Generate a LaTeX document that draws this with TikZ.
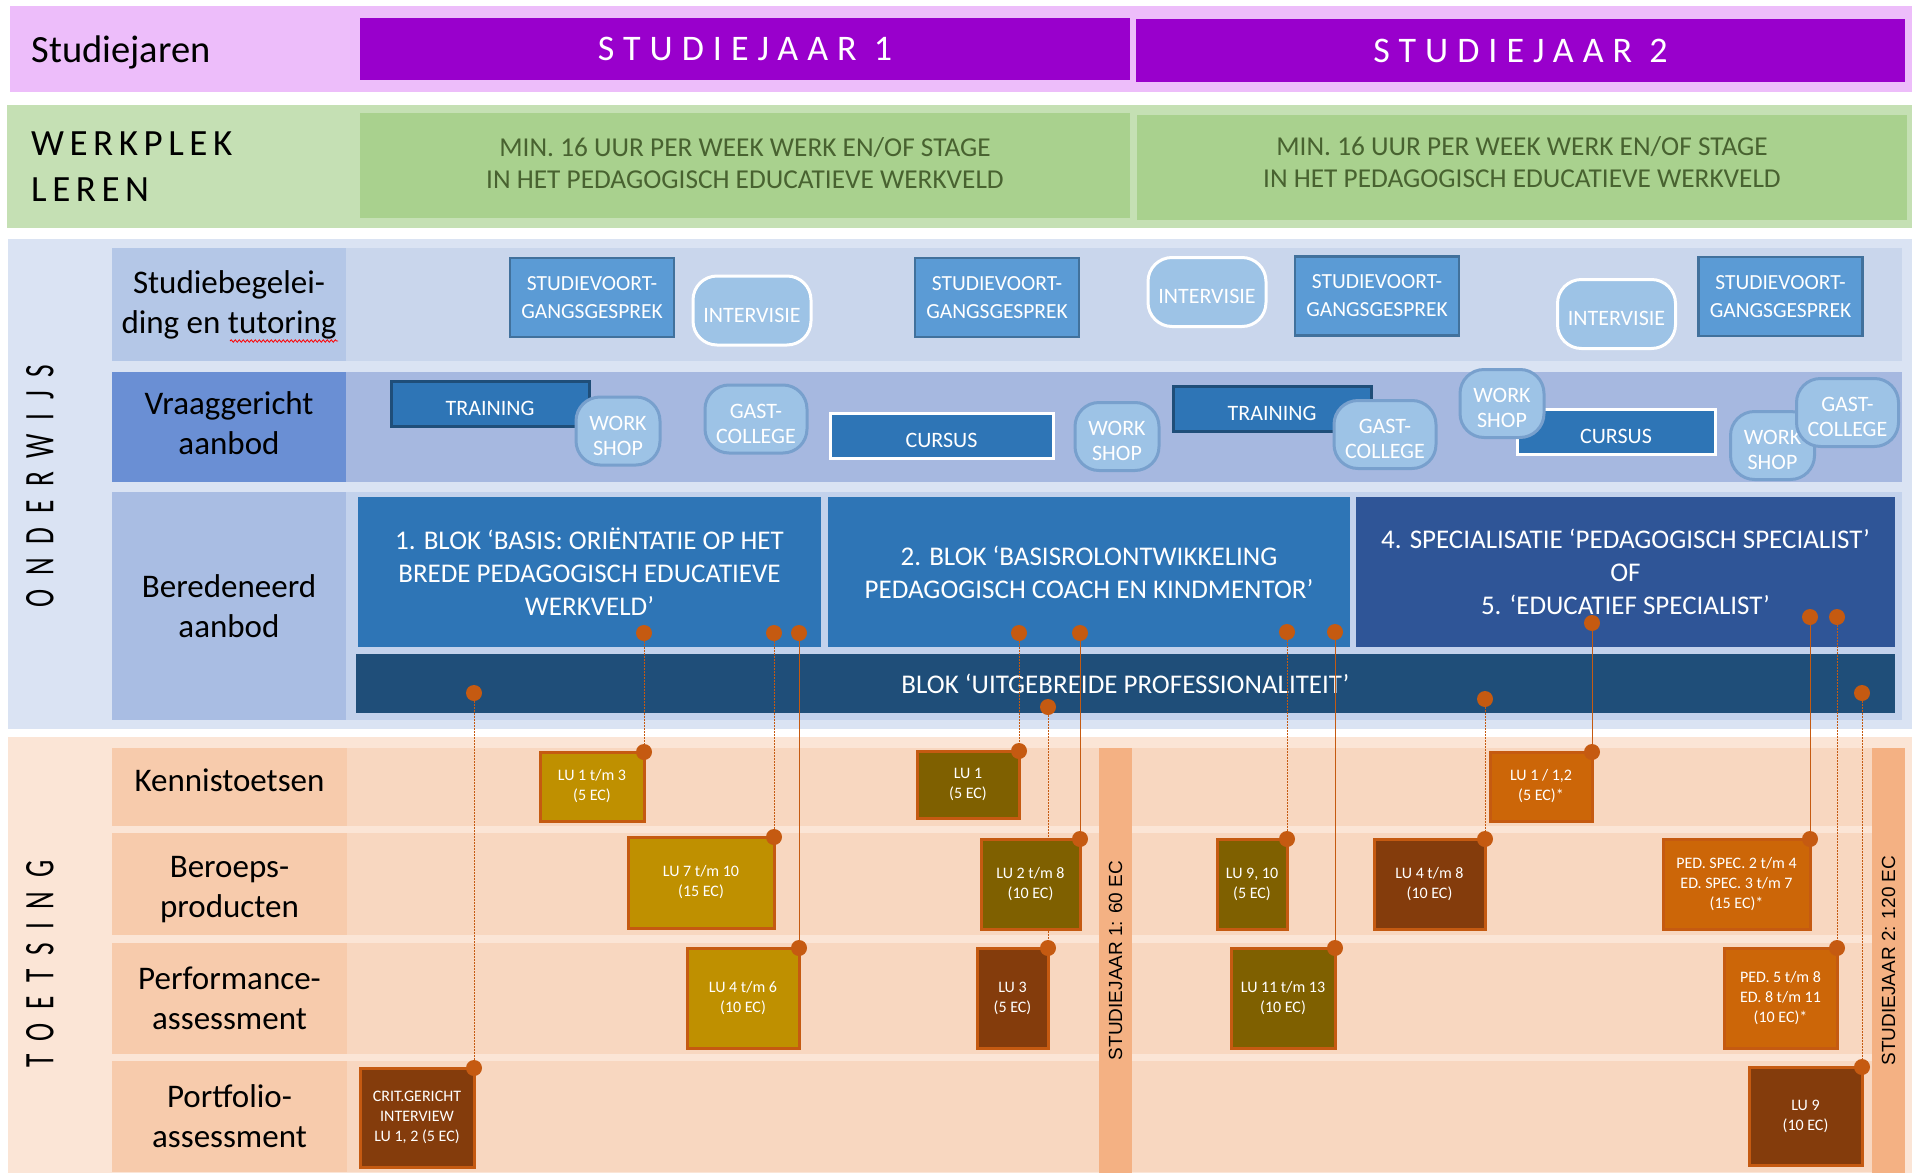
\documentclass[tikz,border=0pt]{standalone}
\usepackage{graphicx}
\usepackage{fontspec}
\setmainfont{Carlito}
\newfontfamily\jaarfont[LetterSpace=25]{Carlito}
\newfontfamily\werkfont[LetterSpace=15]{Carlito}
\newfontfamily\zijfont[LetterSpace=50]{Carlito}
\newfontfamily\balkfont{Liberation Sans}
\usetikzlibrary{positioning,decorations.pathmorphing}

\definecolor{roze}{RGB}{237,189,250}
\definecolor{paars}{RGB}{153,0,204}
\definecolor{lichtgroen}{RGB}{197,224,180}
\definecolor{groen}{RGB}{169,209,142}
\definecolor{groentekst}{RGB}{72,98,48}
\definecolor{lichtblauw}{RGB}{218,227,243}
\definecolor{blauwA}{RGB}{180,199,231}
\definecolor{bandA}{RGB}{201,214,236}
\definecolor{blauwB}{RGB}{106,143,212}
\definecolor{bandB}{RGB}{166,184,224}
\definecolor{blauwC}{RGB}{169,189,227}
\definecolor{bandC}{RGB}{195,210,236}
\definecolor{middenblauw}{RGB}{91,155,213}
\definecolor{randblauw}{RGB}{65,113,156}
\definecolor{hemelblauw}{RGB}{157,195,230}
\definecolor{randlicht}{RGB}{120,160,205}
\definecolor{blokblauw}{RGB}{46,117,182}
\definecolor{donkerblauw}{RGB}{31,78,121}
\definecolor{specblauw}{RGB}{47,85,151}
\definecolor{perzik}{RGB}{251,229,214}
\definecolor{perziklabel}{RGB}{247,203,172}
\definecolor{perzikband}{RGB}{248,215,192}
\definecolor{balk}{RGB}{244,177,131}
\definecolor{oranje}{RGB}{197,90,17}
\definecolor{feloranje}{RGB}{204,102,8}
\definecolor{goud}{RGB}{191,144,0}
\definecolor{olijf}{RGB}{127,96,0}
\definecolor{bruin}{RGB}{132,60,12}

\pgfdeclarelayer{achter}
\pgfdeclarelayer{lijnen}
\pgfsetlayers{achter,lijnen,main}

\begin{document}
\begin{tikzpicture}[x=1pt, y=-1pt,
	vak/.style 2 args={minimum width=#1pt, minimum height=#2pt, inner sep=0pt, outer sep=0pt},
	rijlabel/.style={align=center, font=\fontsize{33}{40}\selectfont},
	jaartekst/.style={text=white, font=\jaarfont\fontsize{36}{40}\selectfont},
	gesprek/.style={vak={164}{79}, fill=middenblauw, draw=randblauw, line width=2.5pt, text=white, align=center, font=\fontsize{21.5}{28}\selectfont},
	rondje/.style 2 args={vak={#1}{#2}, fill=hemelblauw, rounded corners=24pt, line width=3pt, text=white, align=center, text height=24pt, font=\fontsize{22}{25}\selectfont},
	tweeregels/.style={text height=49pt},
	balkje/.style 2 args={vak={#1}{#2}, fill=blokblauw, line width=3pt, text=white, text height=24pt, font=\fontsize{22}{25}\selectfont},
	bloktekst/.style={text=white, align=center, font=\fontsize{27}{33}\selectfont},
	toets/.style={draw=oranje, line width=3pt, text=white, align=center, font=\fontsize{16}{20}\selectfont},
	zijbalk/.style={vak={425}{33}, rotate=90, fill=balk, font=\balkfont\fontsize{19}{19}\selectfont},
	stip/.style={circle, fill=oranje, minimum size=16pt, inner sep=0pt, outer sep=0pt},
	lijn/.style={draw=oranje, line width=1pt},
	gestippeld/.style={lijn, dash pattern=on 1.5pt off 1.5pt}
	]
	
	\useasboundingbox (0,0) rectangle (1912,1175);
	
	\begin{pgfonlayer}{achter}
		% Achtergrondbanden
		\fill[roze] (10,6) rectangle (1912,92);
		\fill[lichtgroen] (7,105) rectangle (1912,228);
		\fill[lichtblauw] (8,239) rectangle (1912,729);
		\fill[perzik] (8,737) rectangle (1912,1173);
		
		% Studiejaren
		\node[anchor=west, font=\fontsize{38.5}{40}\selectfont] (studiejaren) at (28,52) {Studiejaren};
		\node[vak={770}{62}, fill=paars, jaartekst] (jaar1) at (745,49) {STUDIEJAAR 1};
		\node[vak={769}{63}, fill=paars, jaartekst] (jaar2) at (1520.5,50.5) {STUDIEJAAR 2};
		
		% Werkplekleren
		\node[anchor=west, align=left, inner sep=0pt, font=\werkfont\fontsize{37}{46}\selectfont] (werkplek) at (31,167) {WERKPLEK\\LEREN};
		\foreach \n/\x/\y/\d in {werk1/745/165.5/5, werk2/1522/167.5/10}
		\node[vak={770}{105}, fill=groen, text=groentekst, align=center, text depth=\d pt, font=\fontsize{27.3}{32}\selectfont] (\n) at (\x,\y) {MIN. 16 UUR PER WEEK WERK EN/OF STAGE\\IN HET PEDAGOGISCH EDUCATIEVE WERKVELD};
		
		% Onderwijs: rijen
		\node[rotate=90, font=\zijfont\fontsize{42}{42}\selectfont] (onderwijs) at (40,486) {\scalebox{0.65}[1]{ONDERWIJS}};
		\fill[bandA] (346,248) rectangle (1902,361);
		\fill[bandB] (346,372) rectangle (1902,482);
		\fill[bandC] (346,492) rectangle (1902,720);
		\node[vak={234}{113}, fill=blauwA, rijlabel] (begeleiding) at (229,304.5) {Studiebegelei-\\ding en tutoring};
		\node[vak={234}{110}, fill=blauwB, rijlabel, text depth=8pt] (vraag) at (229,427) {Vraaggericht\\aanbod};
		\node[vak={234}{228}, fill=blauwC, rijlabel] (beredeneerd) at (229,606) {Beredeneerd\\aanbod};
		\draw[red, line width=0.8pt, decorate, decoration={snake, amplitude=1.2pt, segment length=4pt}] (230,341) -- (338,341);
		
		% Studiebegeleiding
		\foreach \n/\x/\y in {svg1/592/297.5, svg2/997/297.5, svg3/1377/296, svg4/1780.5/296.5}
		\node[gesprek] (\n) at (\x,\y) {STUDIEVOORT-\\GANGSGESPREK};
		\foreach \n/\x/\y in {iv1/752/310.5, iv2/1207/292, iv3/1616.5/314}
		\node[rondje={118}{69}, draw=white] (\n) at (\x,\y) {INTERVISIE};
		
		% Vraaggericht aanbod
		\foreach \n/\x/\y in {tr1/490/403.5, tr2/1272/408.5}
		\node[balkje={198}{45}, draw=donkerblauw] (\n) at (\x,\y) {TRAINING};
		\node[balkje={223}{45}, draw=white] (cu1) at (941.5,435.5) {CURSUS};
		\node[balkje={198}{45}, draw=white] (cu2) at (1616,432) {CURSUS};
		\foreach \n/\x/\y in {ws1/618/431, ws2/1117/436.5, ws3/1502/403.5, ws4/1772.5/445.5}
		\node[rondje={84}{68}, draw=randlicht, tweeregels] (\n) at (\x,\y) {WORK\\SHOP};
		\foreach \n/\x/\y in {gc1/756/419, gc2/1385/434.5, gc3/1847.5/412.5}
		\node[rondje={102}{68}, draw=randlicht, tweeregels] (\n) at (\x,\y) {GAST-\\COLLEGE};
		
		% Beredeneerd aanbod
		\node[vak={463}{150}, fill=blokblauw, bloktekst] (blok1) at (589.5,572) {1. BLOK ‘BASIS: ORIËNTATIE OP HET\\BREDE PEDAGOGISCH EDUCATIEVE\\WERKVELD’};
		\node[vak={522}{150}, fill=blokblauw, bloktekst] (blok2) at (1089,572) {2. BLOK ‘BASISROLONTWIKKELING\\PEDAGOGISCH COACH EN KINDMENTOR’};
		\node[vak={539}{150}, fill=specblauw, bloktekst] (blok3) at (1625.5,572) {4. SPECIALISATIE ‘PEDAGOGISCH SPECIALIST’\\OF\\5. ‘EDUCATIEF SPECIALIST’};
		\node[vak={1539}{59}, fill=donkerblauw, bloktekst] (uitgebreid) at (1125.5,683.5) {BLOK ‘UITGEBREIDE PROFESSIONALITEIT’};
		
		% Toetsing: rijen
		\node[rotate=90, font=\zijfont\fontsize{42}{42}\selectfont] (toetsing) at (40,964) {\scalebox{0.65}[1]{TOETSING}};
		\fill[perzikband] (347,748) rectangle (1905,826);
		\fill[perzikband] (347,833) rectangle (1905,935);
		\fill[perzikband] (347,943) rectangle (1905,1054);
		\fill[perzikband] (347,1061) rectangle (1905,1172);
		\node[vak={235}{78}, fill=perziklabel, rijlabel, text depth=14pt] (kennis) at (229.5,787) {Kennistoetsen};
		\node[vak={235}{102}, fill=perziklabel, rijlabel, text height=73pt] (beroeps) at (229.5,884) {Beroeps-\\producten};
		\node[vak={235}{111}, fill=perziklabel, rijlabel] (performance) at (229.5,998.5) {Performance-\\assessment};
		\node[vak={235}{111}, fill=perziklabel, rijlabel] (portfolio) at (229.5,1116.5) {Portfolio-\\assessment};
		\node[zijbalk] (balk1) at (1115.5,960.5) {STUDIEJAAR 1: 60 EC};
		\node[zijbalk] (balk2) at (1888.5,960.5) {STUDIEJAAR 2: 120 EC};
	\end{pgfonlayer}
	
	% Toetsvormen studiejaar 1
	\node[vak={104}{69}, fill=goud, toets] (ka) at (592,786.5) {LU 1 t/m 3\\(5 EC)};
	\node[vak={146}{91}, fill=goud, toets] (ba) at (701,882.5) {LU 7 t/m 10\\(15 EC)};
	\node[vak={112}{100}, fill=goud, toets] (pa) at (743,998) {LU 4 t/m 6\\(10 EC)};
	\node[vak={114}{99}, fill=bruin, toets] (pfa) at (417,1117.5) {CRIT.GERICHT\\INTERVIEW\\LU 1, 2 (5 EC)};
	\node[vak={102}{67}, fill=olijf, toets] (kb) at (968,784.5) {LU 1\\(5 EC)};
	\node[vak={99}{90}, fill=olijf, toets] (bb) at (1030.5,884) {LU 2 t/m 8\\(10 EC)};
	\node[vak={71}{100}, fill=bruin, toets] (pb) at (1012.5,998) {LU 3\\(5 EC)};
	
	% Toetsvormen studiejaar 2
	\node[vak={102}{69}, fill=feloranje, toets] (kc) at (1541,786.5) {LU 1 / 1,2\\(5 EC)*};
	\node[vak={70}{90}, fill=olijf, toets] (bc) at (1252,884) {LU 9, 10\\(5 EC)};
	\node[vak={111}{90}, fill=bruin, toets] (bd) at (1429.5,884) {LU 4 t/m 8\\(10 EC)};
	\node[vak={147}{90}, fill=feloranje, toets] (be) at (1736.5,884) {PED. SPEC. 2 t/m 4\\ED. SPEC. 3 t/m 7\\(15 EC)*};
	\node[vak={104}{100}, fill=olijf, toets] (pc) at (1283,998) {LU 11 t/m 13\\(10 EC)};
	\node[vak={113}{100}, fill=feloranje, toets] (pd) at (1780.5,998) {PED. 5 t/m 8\\ED. 8 t/m 11\\(10 EC)*};
	\node[vak={113}{98}, fill=bruin, toets] (pfb) at (1805.5,1116) {LU 9\\(10 EC)};
	
	% Stippen in de blokken en op de hoeken
	\foreach \s/\b/\y in {sa/ka/633, sb/ba/633, sc/pa/633, sd/pfa/693, se/kb/633, sf/pb/707, sg/bb/633, sh/bc/632, si/pc/632, sj/bd/699, sk/kc/623, sl/be/617, sm/pd/617, sn/pfb/693}{
		\node[stip] (\s) at (\b.north east |- 0,\y) {};
		\node[stip] (e\s) at (\b.north east) {};
	}
	
	% Verbindingen
	\begin{pgfonlayer}{lijnen}
		\foreach \s/\b in {sa/ka, sb/ba, sd/pfa, se/kb, sf/pb, sh/bc, sj/bd, sm/pd, sn/pfb}
		\draw[gestippeld] (\s) -- (\b.north east);
		\foreach \s/\b in {sc/pa, sg/bb, si/pc, sk/kc, sl/be}
		\draw[lijn] (\s) -- (\b.north east);
	\end{pgfonlayer}
	
\end{tikzpicture}
\end{document}
